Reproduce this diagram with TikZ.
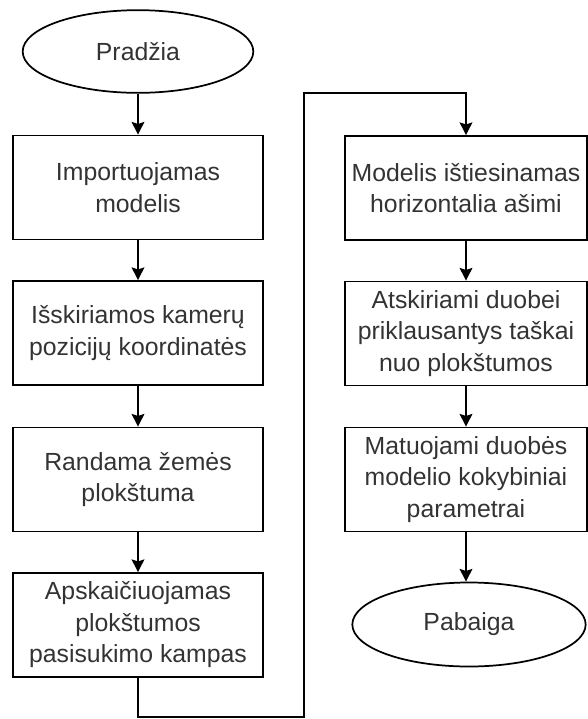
\documentclass[tikz,border=0pt]{standalone}
\usepackage{fontspec}
\setmainfont{Liberation Sans}
\usepackage{xcolor}
\usepackage{tikz}
\usetikzlibrary{positioning, shapes.geometric, arrows.meta}

\tikzset{
  stepbox/.style={draw, rectangle, line width=1.3pt, minimum width=187pt, minimum height=78pt, align=center, text=black!80, font=\fontsize{18.6pt}{23.6pt}\selectfont},
  termnode/.style={draw, ellipse, line width=1.3pt, inner sep=0pt, align=center, text=black!80, font=\fontsize{18.6pt}{23.6pt}\selectfont},
  flow/.style={-{Stealth[length=9.5pt, width=9.5pt, inset=1.5pt]}, line width=1.3pt}
}

\begin{document}
\begin{tikzpicture}[x=0.75pt, y=-0.75pt]
    \useasboundingbox (0,0) rectangle (587,719);
    % left column
    \node[termnode, minimum width=173pt, minimum height=62pt] (start) at (138,51.5) {Pradžia};
    \node[stepbox] (importas) at (138,187.5) {Importuojamas\\modelis};
    \node[stepbox] (kameros) at (138,333) {Išskiriamos kamerų\\pozicijų koordinatės};
    \node[stepbox] (zeme) at (138,479.5) {Randama žemės\\plokštuma};
    \node[stepbox] (kampas) at (138,625) {Apskaičiuojamas\\plokštumos\\pasisukimo kampas};
    % right column
    \node[stepbox, minimum width=181pt] (tiesinimas) at (466,188) {Modelis ištiesinamas\\horizontalia ašimi};
    \node[stepbox, minimum width=181pt] (taskai) at (466,333.5) {Atskiriami duobei\\priklausantys taškai\\nuo plokštumos};
    \node[stepbox, minimum width=181pt] (matavimas) at (466,479.5) {Matuojami duobės\\modelio kokybiniai\\parametrai};
    \node[termnode, minimum width=175pt, minimum height=63pt] (pabaiga) at (469,624.5) {Pabaiga};
    \coordinate (lo) at (304,717);
    \coordinate (hi) at (304,93);
    \draw[flow] (start) -- (importas);
    \draw[flow] (importas) -- (kameros);
    \draw[flow] (kameros) -- (zeme);
    \draw[flow] (zeme) -- (kampas);
    \draw[flow] (kampas.south) |- (lo) -- (hi) -| (tiesinimas.north);
    \draw[flow] (tiesinimas) -- (taskai);
    \draw[flow] (taskai) -- (matavimas);
    \draw[flow] (matavimas.south) -- (matavimas.south |- pabaiga.north);
  \end{tikzpicture}
\end{document}
